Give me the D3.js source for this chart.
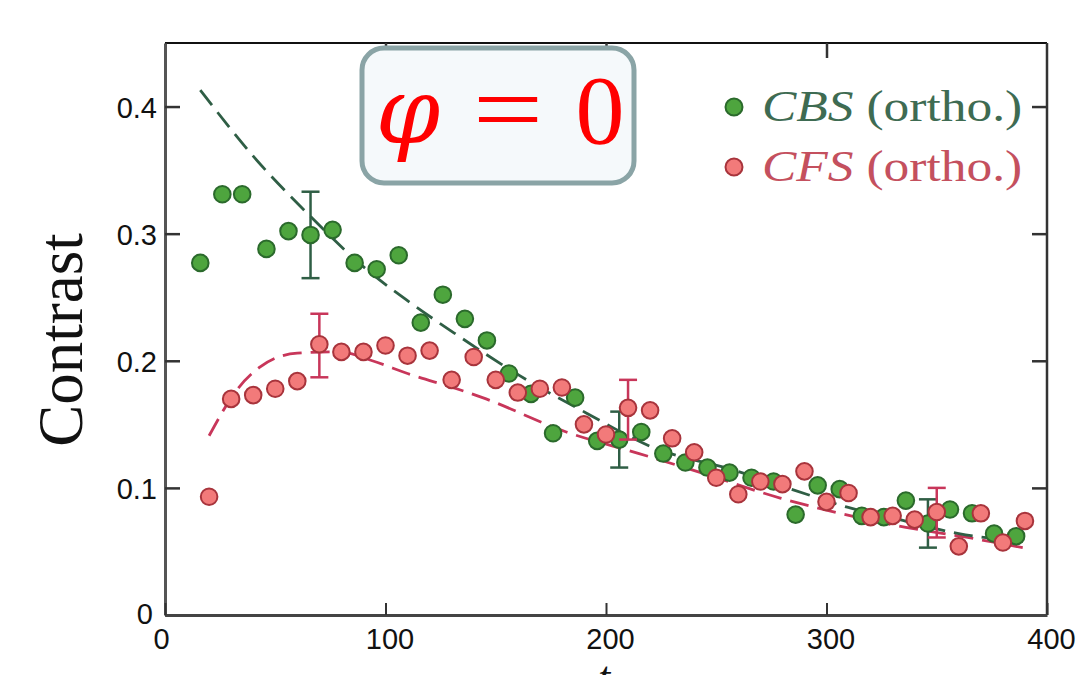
<!DOCTYPE html>
<html>
<head>
<meta charset="utf-8">
<script src="https://cdn.jsdelivr.net/npm/d3@7"></script>
<style>
  html, body { margin: 0; padding: 0; background: #fff; }
  svg { display: block; }
  .tick text { font-family: "Liberation Sans", Arial, sans-serif; font-size: 29px; fill: #111; }
</style>
</head>
<body>
<svg id="chart" width="1082" height="675"></svg>
<script>
  // CBS (ortho.) points
  var cbsX = [16, 26, 35, 46, 56, 66, 76, 86, 96, 106, 116, 126, 136, 146, 156, 166, 176, 186, 196, 206,
              216, 226, 236, 246, 256, 266, 276, 286, 296, 306, 316, 326, 336, 346, 356, 366, 376, 386];
  var cbsY = [0.277, 0.331, 0.331, 0.288, 0.302, 0.299, 0.303, 0.277, 0.272, 0.283, 0.230, 0.252, 0.233, 0.216,
              0.190, 0.174, 0.143, 0.171, 0.137, 0.138, 0.144, 0.127, 0.120, 0.116, 0.112, 0.108, 0.105, 0.079,
              0.102, 0.099, 0.078, 0.077, 0.090, 0.072, 0.083, 0.080, 0.064, 0.062];

  // CFS (ortho.) points
  var cfsX = [20, 30, 40, 50, 60, 70, 80, 90, 100, 110, 120, 130, 140, 150, 160, 170, 180, 190, 200, 210,
              220, 230, 240, 250, 260, 270, 280, 290, 300, 310, 320, 330, 340, 350, 360, 370, 380, 390];
  var cfsY = [0.093, 0.170, 0.173, 0.178, 0.184, 0.213, 0.207, 0.207, 0.212, 0.204, 0.208, 0.185, 0.203, 0.185,
              0.175, 0.178, 0.179, 0.150, 0.142, 0.163, 0.161, 0.139, 0.128, 0.108, 0.095, 0.105, 0.103, 0.113,
              0.089, 0.096, 0.077, 0.078, 0.075, 0.081, 0.054, 0.080, 0.057, 0.074];

  // dashed fit curves
  var cbsFitX = [16, 40, 64, 92, 111, 131, 164, 191, 221, 258, 291, 309, 333, 360, 389];
  var cbsFitY = [0.413, 0.361, 0.317, 0.271, 0.246, 0.222, 0.185, 0.159, 0.132, 0.114, 0.095, 0.085, 0.075, 0.064, 0.058];
  var cfsFitX = [20, 33, 43, 60, 79, 94, 110, 134, 144, 182, 215, 243, 279, 306, 336, 364, 389];
  var cfsFitY = [0.141, 0.178, 0.195, 0.206, 0.207, 0.200, 0.190, 0.177, 0.171, 0.144, 0.127, 0.112, 0.092, 0.080, 0.069, 0.061, 0.053];

  // error bars: x, low, high
  var cbsErrX = [66, 206, 346];
  var cbsErrLo = [0.265, 0.116, 0.053];
  var cbsErrHi = [0.333, 0.160, 0.091];
  var cfsErrX = [70, 210, 350];
  var cfsErrLo = [0.187, 0.138, 0.061];
  var cfsErrHi = [0.237, 0.185, 0.100];

  var xTicks = [0, 100, 200, 300, 400];
  var yTicks = [0, 0.1, 0.2, 0.3, 0.4];

  var green = { fill: "#4ea53e", stroke: "#2b6a2c", line: "#2f5e45", text: "#3e6b52" };
  var red = { fill: "#f27a7a", stroke: "#a8343c", line: "#c8365a", text: "#c4505e" };

  var svg = d3.select("#chart");
  var mLeft = 165, mRight = 1047, mTop = 43, mBottom = 615;

  var x = d3.scaleLinear().domain([0, 400]).range([mLeft, mRight]);
  var y = d3.scaleLinear().domain([0, 0.45]).range([mBottom, mTop]);

  // frame: top and right
  svg.append("line").attr("x1", mLeft).attr("x2", mRight).attr("y1", mTop).attr("y2", mTop)
    .attr("stroke", "#111").attr("stroke-width", 2);
  svg.append("line").attr("x1", mRight).attr("x2", mRight).attr("y1", mTop).attr("y2", mBottom)
    .attr("stroke", "#333").attr("stroke-width", 2.5);

  // top / right inward ticks
  svg.append("g").attr("transform", "translate(0," + mTop + ")")
    .call(d3.axisTop(x).tickValues([100, 200, 300]).tickSizeInner(-15).tickSizeOuter(0).tickFormat(""))
    .call(function(g) { g.select(".domain").remove(); g.selectAll("line").attr("stroke", "#333").attr("stroke-width", 2.5); });
  svg.append("g").attr("transform", "translate(" + mRight + ",0)")
    .call(d3.axisRight(y).tickValues([0.1, 0.2, 0.3, 0.4]).tickSizeInner(-15).tickSizeOuter(0).tickFormat(""))
    .call(function(g) { g.select(".domain").remove(); g.selectAll("line").attr("stroke", "#333").attr("stroke-width", 2.5); });

  // left axis
  svg.append("g").attr("transform", "translate(" + mLeft + ",0)")
    .call(d3.axisLeft(y).tickValues(yTicks).tickSizeInner(-15).tickSizeOuter(0).tickPadding(8)
      .tickFormat(function(d) { return d === 0 ? "0" : d3.format(".1f")(d); }))
    .call(function(g) {
      g.select(".domain").attr("stroke", "#555").attr("stroke-width", 3);
      g.selectAll("line").attr("stroke", "#333").attr("stroke-width", 2.5);
      g.selectAll("text")
        .attr("dy", function(d) { return d === 0 ? "0.3em" : "0.36em"; })
        .attr("dx", function(d) { return d === 0 ? -4 : 0; });
    });

  // bottom axis
  svg.append("g").attr("transform", "translate(0," + mBottom + ")")
    .call(d3.axisBottom(x).tickValues(xTicks).tickSizeInner(-12).tickSizeOuter(0).tickPadding(13))
    .call(function(g) {
      g.select(".domain").attr("stroke", "#444").attr("stroke-width", 3);
      g.selectAll("line").attr("stroke", "#333").attr("stroke-width", 2);
      g.selectAll("text").attr("dx", function(d) { return d === 0 ? -4 : 4; });
    });

  // y label
  svg.append("text")
    .attr("transform", "translate(82,340) rotate(-90)")
    .attr("text-anchor", "middle")
    .attr("font-family", "'Liberation Serif', 'DejaVu Serif', serif")
    .attr("font-size", 63)
    .attr("fill", "#111")
    .text("Contrast");

  // x label (cut off at the bottom, as in the original)
  svg.append("text")
    .attr("x", 604).attr("y", 692)
    .attr("text-anchor", "middle")
    .attr("font-family", "'Liberation Serif', serif")
    .attr("font-style", "italic")
    .attr("font-size", 44)
    .attr("fill", "#111")
    .text("t");

  // fits
  var fitLine = d3.line().x(function(d) { return x(d[0]); }).y(function(d) { return y(d[1]); }).curve(d3.curveMonotoneX);
  svg.append("path").datum(d3.zip(cfsFitX, cfsFitY)).attr("d", fitLine)
    .attr("fill", "none").attr("stroke", red.line).attr("stroke-width", 2.8).attr("stroke-dasharray", "19,9");
  svg.append("path").datum(d3.zip(cbsFitX, cbsFitY)).attr("d", fitLine)
    .attr("fill", "none").attr("stroke", green.line).attr("stroke-width", 2.8).attr("stroke-dasharray", "19,9");

  function errorBars(xs, lo, hi, color) {
    var g = svg.append("g").attr("stroke", color).attr("stroke-width", 2.5);
    xs.forEach(function(v, i) {
      g.append("line").attr("x1", x(v)).attr("x2", x(v)).attr("y1", y(lo[i])).attr("y2", y(hi[i]));
      g.append("line").attr("x1", x(v) - 9).attr("x2", x(v) + 9).attr("y1", y(lo[i])).attr("y2", y(lo[i]));
      g.append("line").attr("x1", x(v) - 9).attr("x2", x(v) + 9).attr("y1", y(hi[i])).attr("y2", y(hi[i]));
    });
  }

  function dots(xs, ys, c) {
    svg.append("g").selectAll("circle").data(d3.zip(xs, ys)).join("circle")
      .attr("cx", function(d) { return x(d[0]); })
      .attr("cy", function(d) { return y(d[1]); })
      .attr("r", 8.3)
      .attr("fill", c.fill).attr("stroke", c.stroke).attr("stroke-width", 2);
  }

  errorBars(cbsErrX, cbsErrLo, cbsErrHi, green.line);
  dots(cbsX, cbsY, green);
  errorBars(cfsErrX, cfsErrLo, cfsErrHi, red.line);
  dots(cfsX, cfsY, red);

  // phi box
  svg.append("rect").attr("x", 362).attr("y", 48).attr("width", 272).attr("height", 135)
    .attr("rx", 22).attr("fill", "#f5f9fb").attr("stroke", "#8aa4a6").attr("stroke-width", 5);
  var phi = svg.append("g").attr("fill", "#ff0000").attr("font-family", "'DejaVu Serif', 'Liberation Serif', serif");
  phi.append("text").attr("x", 408).attr("y", 143).attr("text-anchor", "middle")
    .attr("font-size", 92).attr("font-style", "italic").text("φ");
  phi.append("text").attr("x", 508).attr("y", 143).attr("text-anchor", "middle")
    .attr("font-size", 100).attr("font-family", "'Liberation Serif', serif")
    .attr("transform", "translate(508,0) scale(1.25,1) translate(-508,0)").text("=");
  phi.append("text").attr("x", 600).attr("y", 143).attr("text-anchor", "middle")
    .attr("font-size", 98).attr("font-family", "'Liberation Serif', serif").text("0");

  // legend
  var legend = [
    { name: "CBS", c: green, y: 107 },
    { name: "CFS", c: red, y: 167 }
  ];
  legend.forEach(function(l) {
    svg.append("circle").attr("cx", 734).attr("cy", l.y).attr("r", 8.5)
      .attr("fill", l.c.fill).attr("stroke", l.c.stroke).attr("stroke-width", 2);
    var t = svg.append("text").attr("transform", "translate(762," + (l.y + 14) + ") scale(1.17,1)")
      .attr("font-family", "'Liberation Serif', serif").attr("font-size", 44).attr("fill", l.c.text);
    t.append("tspan").attr("font-style", "italic").text(l.name);
    t.append("tspan").text(" (ortho.)");
  });
</script>
</body>
</html>
